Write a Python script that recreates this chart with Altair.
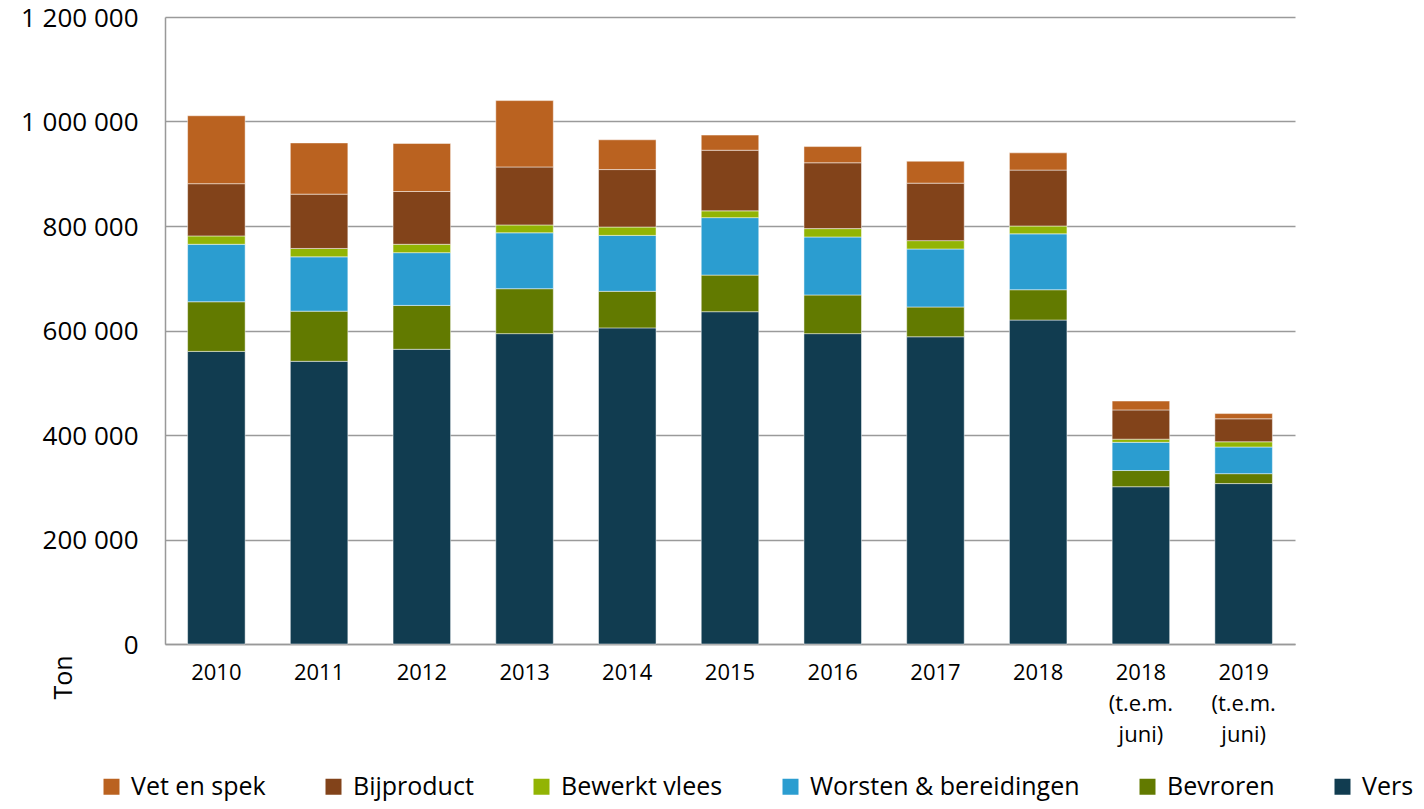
import altair as alt
import pandas as pd

categories = ["2010", "2011", "2012", "2013", "2014", "2015", "2016", "2017", "2018",
              "2018|(t.e.m.|juni)", "2019|(t.e.m.|juni)"]
series_names = ["Vet en spek", "Bijproduct", "Bewerkt vlees", "Worsten & bereidingen", "Bevroren", "Vers"]
series_colors = ["#BA6220", "#82431A", "#92B404", "#2B9DD0", "#627A00", "#113C50"]

vers = [560000, 541000, 564000, 594000, 605000, 636000, 594000, 588000, 620000, 301000, 307000]
bevroren = [95000, 96000, 84000, 86000, 70000, 70000, 74000, 57000, 58000, 31000, 19000]
worsten = [110000, 104000, 101000, 107000, 107000, 110000, 111000, 111000, 107000, 54000, 51000]
bewerkt = [16000, 16000, 16000, 15000, 16000, 13000, 16000, 16000, 15000, 6000, 10000]
bijproduct = [100000, 104000, 101000, 111000, 110000, 116000, 126000, 110000, 107000, 56000, 44000]
vet = [130000, 98000, 92000, 127000, 57000, 29000, 31000, 42000, 33000, 17000, 10000]

y_ticks = [0, 200000, 400000, 600000, 800000, 1000000, 1200000]

series_values = {
    "Vers": vers,
    "Bevroren": bevroren,
    "Worsten & bereidingen": worsten,
    "Bewerkt vlees": bewerkt,
    "Bijproduct": bijproduct,
    "Vet en spek": vet,
}
stack_order = ["Vers", "Bevroren", "Worsten & bereidingen", "Bewerkt vlees", "Bijproduct", "Vet en spek"]

rows = []
for i, cat in enumerate(categories):
    for k, name in enumerate(stack_order):
        rows.append({"cat": cat, "serie": name, "waarde": series_values[name][i], "volgorde": k})
df = pd.DataFrame(rows)

chart = alt.Chart(df).mark_bar(stroke="white", strokeWidth=0.8, strokeOpacity=0.6).encode(
    x=alt.X(
        "cat:N",
        sort=categories,
        scale=alt.Scale(paddingInner=0.44, paddingOuter=0.22),
        axis=alt.Axis(
            title=None, labelAngle=0, ticks=False,
            labelExpr="split(datum.value, '|')",
            labelLineHeight=31, labelPadding=18, labelFontSize=22,
            labelColor="black", domainColor="#999999", domainWidth=1.5,
        ),
    ),
    y=alt.Y(
        "waarde:Q",
        stack="zero",
        scale=alt.Scale(domain=[0, 1200000], nice=False),
        axis=alt.Axis(
            title="Ton", values=y_ticks,
            labelExpr="replace(replace(format(datum.value, ',d'), ',', ' '), ',', ' ')",
            labelFontSize=26, labelColor="black", labelPadding=27, ticks=False,
            labelOffset=1,
            domainColor="#999999", domainWidth=1.5,
            gridColor="#9a9a9a", gridWidth=1.5,
            titleX=-102, titleY=660, titleAngle=270, titleAlign="center",
            titleBaseline="middle", titleFontSize=25, titleFontWeight="normal",
            titleColor="black",
        ),
    ),
    color=alt.Color(
        "serie:N",
        scale=alt.Scale(domain=series_names, range=series_colors),
        legend=alt.Legend(
            title=None, orient="none", legendX=-66, legendY=757,
            direction="horizontal", symbolType="square", symbolSize=256,
            symbolStrokeWidth=0, labelFontSize=25, labelOffset=7,
            columnPadding=55, labelLimit=600, padding=0, labelColor="black",
        ),
    ),
    order=alt.Order("volgorde:Q", sort="ascending"),
).properties(
    width=1130,
    height=627,
    autosize=alt.AutoSizeParams(type="none"),
    padding={"left": 157, "top": 9, "right": 121, "bottom": 157},
).configure(
    font="Open Sans",
).configure_view(
    strokeWidth=0,
)

chart.save("out.html", embed_options={"renderer": "svg", "actions": False})
